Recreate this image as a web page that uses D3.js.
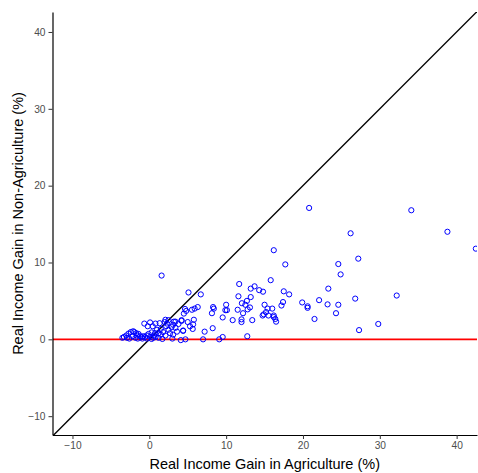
<!DOCTYPE html>
<html>
<head>
<meta charset="utf-8">
<script src="https://cdn.jsdelivr.net/npm/d3@7"></script>
<style>
  body { margin: 0; background: #fff; }
  text { font-family: "Liberation Sans", Arial, sans-serif; }
</style>
</head>
<body>
<svg id="chart" width="478" height="473"></svg>
<script>
/* Data: real income gain (%) per observation */
var agriGain = [
	42.5, 34.1, 38.8, 32.2, 29.8, 20.8, 26.2, 27.2, 24.6, 24.9, 23.3, 18.2, 19.9, 20.6, 20.6, 22.1, 23.2, 24.6, 26.8, 24.3, 21.5, 27.3,
	16.2, 17.7, 15.8, 11.7, 13.7, 13.2, 14.3, 14.8, 17.5, 11.6, 13.2,
	12.05, 12.7, 12.5, 13.1, 12.8, 11.5, 12.2,
	15.0, 15.4, 16.0, 15.2, 14.75, 14.9, 15.5, 16.2, 16.4, 16.5, 16.2, 17.2, 17.4,
	10.85, 9.55, 12.0, 12.0, 13.4,
	8.3, 8.4, 10.0, 10.1, 9.9, 8.15,
	5.55, 5.9, 6.3, 4.65, 4.5, 4.8, 4.2,
	5.8, 5.7, 5.3, 5.65, 4.4, 7.2, 8.25, 12.75, 4.7, 7.0, 9.1, 9.55,
	1.6, 5.1, 6.7,
	3.4, 3.1, 2.1, 1.7, 3.0,
	-0.65, 0.1, 0.8, 1.35, -0.2, 0.45, 2.0, 2.3, 2.5, 3.2, 3.4, 4.2, 4.4, 5.0,
	1.5, 1.8, 2.5, 2.9, 2.7, 3.1, 1.0, 1.2, 0.75,
	-3.5, -3.3, -3.0, -2.7, -2.4, -2.1, -1.95, -1.7, -1.4, -1.2, -1.0, -0.8, -0.55, -0.35, 0.1, 0.5, 4.1,
	-2.6, -2.2, -1.8, -1.5, -0.9, -0.3, 0.3, 0.8, 1.2, -1.6, -0.1, 0.3, 0.6, -2.9, 2.1, 1.5, 2.2, 3.6, 3.8
];
var nonAgriGain = [
	11.8, 16.8, 14.0, 5.7, 2.0, 17.1, 13.8, 10.5, 9.8, 8.45, 6.6, 5.85, 4.8, 4.3, 4.1, 5.1, 4.55, 4.5, 5.3, 3.4, 2.65, 1.2,
	11.6, 9.75, 7.7, 7.2, 6.9, 6.6, 6.4, 6.2, 6.25, 5.6, 5.5,
	4.7, 5.0, 4.5, 4.15, 3.9, 3.85, 3.4,
	4.5, 4.0, 4.0, 3.55, 3.1, 3.25, 3.1, 3.1, 2.65, 2.3, 2.9, 4.4, 4.85,
	2.5, 2.85, 2.6, 2.25, 2.5,
	4.2, 4.0, 4.5, 3.8, 3.8, 3.4,
	3.85, 4.0, 4.2, 3.95, 3.35, 3.7, 2.4,
	2.55, 1.95, 1.7, 1.35, 1.15, 1.0, 1.45, 0.4, 0.0, 0.0, 0.0, 0.3,
	8.3, 6.1, 5.85,
	2.3, 1.9, 2.55, 0.05, 0.1,
	2.05, 2.2, 2.05, 2.1, 1.7, 1.7, 2.25, 2.05, 2.5, 2.3, 1.5, 2.5, 1.1, 2.25,
	1.35, 0.95, 1.25, 1.6, 0.8, 0.6, 1.25, 0.8, 0.8,
	0.2, 0.3, 0.5, 0.75, 0.95, 1.05, 0.95, 0.8, 0.7, 0.4, 0.3, 0.4, 0.3, 0.5, 0.3, 0.2, -0.1,
	0.1, 0.4, 0.2, 0.1, 0.1, 0.1, 0.05, 0.3, 0.2, 0.5, 0.7, 0.9, 0.5, 0.2, 0.5, 0.6, 1.7, 1.0, 2.0
];
var xTicks = [-10, 0, 10, 20, 30, 40];
var yTicks = [-10, 0, 10, 20, 30, 40];
var xLabel = "Real Income Gain in Agriculture (%)";
var yLabel = "Real Income Gain in Non-Agriculture (%)";

var svg = d3.select("#chart");

var margin = {top: 12, right: 1, bottom: 38, left: 52.5},
	width = 478 - margin.left - margin.right,
	height = 473 - margin.top - margin.bottom;

var x = d3.scaleLinear()
	.domain([-12.6, 42.65])
	.range([0, width]);

var y = d3.scaleLinear()
	.domain([-12.45, 42.6])
	.range([height, 0]);

var g = svg.append("g")
	.attr("transform", "translate(" + margin.left + "," + margin.top + ")");

g.append("clipPath")
	.attr("id", "panel")
	.append("rect")
	.attr("width", width)
	.attr("height", height);

var panel = g.append("g").attr("clip-path", "url(#panel)");

/* y = x reference line */
var lo = Math.min(x.domain()[0], y.domain()[0]) - 1,
	hi = Math.max(x.domain()[1], y.domain()[1]) + 1;
panel.append("line")
	.attr("x1", x(lo)).attr("y1", y(lo))
	.attr("x2", x(hi)).attr("y2", y(hi))
	.attr("stroke", "black")
	.attr("stroke-width", 1.4);

/* zero line */
panel.append("line")
	.attr("x1", 0).attr("x2", width)
	.attr("y1", y(0)).attr("y2", y(0))
	.attr("stroke", "#ff0000")
	.attr("stroke-width", 1.6);

/* points */
panel.selectAll(".dot")
	.data(d3.range(agriGain.length))
	.enter().append("circle")
	.attr("class", "dot")
	.attr("cx", function(i){ return x(agriGain[i]); })
	.attr("cy", function(i){ return y(nonAgriGain[i]); })
	.attr("r", 2.6)
	.attr("fill", "none")
	.attr("stroke", "#0000ff")
	.attr("stroke-width", 1);

/* axes */
var xAxis = g.append("g")
	.attr("transform", "translate(0," + height + ")")
	.call(d3.axisBottom(x).tickValues(xTicks).tickSize(4).tickPadding(3).tickSizeOuter(0));

var yAxis = g.append("g")
	.call(d3.axisLeft(y).tickValues(yTicks).tickSize(4).tickPadding(3).tickSizeOuter(0));

[xAxis, yAxis].forEach(function(ax){
	ax.select(".domain").attr("stroke", "black").attr("stroke-width", 1.2);
	ax.selectAll(".tick line").attr("stroke", "#333333").attr("stroke-width", 1);
	ax.selectAll(".tick text")
		.attr("fill", "#4d4d4d")
		.style("font-size", "10.2px")
		.style("font-family", "'Liberation Sans', Arial, sans-serif");
});

/* titles */
svg.append("text")
	.attr("x", margin.left + width / 2)
	.attr("y", 469)
	.attr("text-anchor", "middle")
	.style("font-size", "14.5px")
	.text(xLabel);

svg.append("text")
	.attr("transform", "translate(22.5," + (margin.top + height / 2) + ") rotate(-90)")
	.attr("text-anchor", "middle")
	.style("font-size", "14.5px")
	.text(yLabel);
</script>
</body>
</html>
